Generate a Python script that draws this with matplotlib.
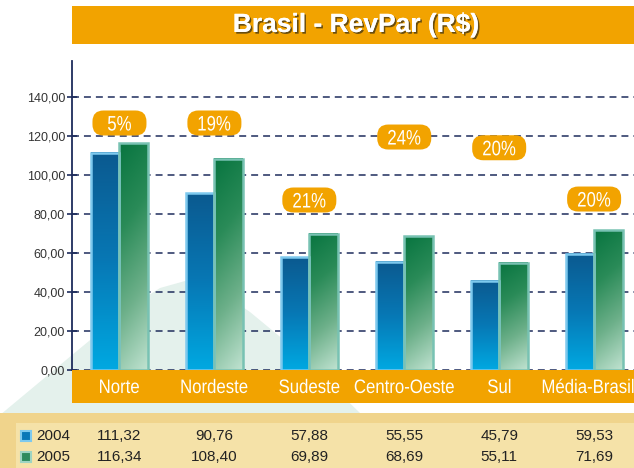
import numpy as np
import matplotlib
matplotlib.use('Agg')
import matplotlib.pyplot as plt
from matplotlib.patches import Rectangle, FancyBboxPatch, Polygon, PathPatch
from matplotlib.colors import LinearSegmentedColormap
from matplotlib.textpath import TextPath
from matplotlib.font_manager import FontProperties
import matplotlib.transforms as mtransforms
import matplotlib.patheffects as pe

# ---- data ----
regions = ['Norte', 'Nordeste', 'Sudeste', 'Centro-Oeste', 'Sul', 'Média-Brasil']
revpar_2004 = [111.32, 90.76, 57.88, 55.55, 45.79, 59.53]
revpar_2005 = [116.34, 108.40, 69.89, 68.69, 55.11, 71.69]
growth = ['5%', '19%', '21%', '24%', '20%', '20%']
yticks = [0, 20, 40, 60, 80, 100, 120, 140]

# where the growth pills float (layout only)
pill_y = [126.7, 126.7, 87.2, 119.5, 114.0, 87.7]
# small horizontal nudges of the region labels, in pixels (layout only)
label_dx = [0, 0, 0, 0, 0, -6]

regular = 'Liberation Sans'
plt.rcParams['lines.scale_dashes'] = False

ORANGE = '#F2A300'
NAVY = '#1E2C5C'

W, H = 634, 468
def fx(px):
    return px / W
def fy(py):
    return 1 - py / H

fig = plt.figure(figsize=(W / 100, H / 100), dpi=100)
fig.patch.set_facecolor('white')
px_tr = mtransforms.Affine2D().scale(1 / W, 1 / H) + fig.transFigure


def narrow_text(x_px, y_px, s, size_px, sx=0.84, color='white', zorder=3):
    # condensed look: draw the glyph outlines squeezed horizontally
    tp = TextPath((0, 0), s, size=size_px, prop=FontProperties(family=regular))
    bb = tp.get_extents()
    cap = 0.716 * size_px
    t = (mtransforms.Affine2D().translate(-(bb.x0 + bb.width / 2), -cap / 2)
         .scale(sx, 1).translate(x_px, H - y_px))
    path = t.transform_path(tp)
    fig.add_artist(PathPatch(path, transform=px_tr, facecolor=color, edgecolor='none', zorder=zorder))


# mint background shape
mint = Polygon([(fx(0), fy(415)), (fx(60), fy(365)), (fx(130), fy(307)), (fx(160), fy(288)),
                (fx(185), fy(281)), (fx(215), fy(288)), (fx(250), fy(312)), (fx(290), fy(345)),
                (fx(360), fy(413)), (fx(360), fy(468)), (fx(0), fy(468))],
               closed=True, transform=fig.transFigure, facecolor='#E4F1EC', edgecolor='none', zorder=-1)
fig.add_artist(mint)

ax = fig.add_axes([fx(72), fy(370), fx(634) - fx(72), fy(61) - fy(370)])
ax.patch.set_alpha(0)

# gridlines
for v in yticks:
    ax.axhline(v, color=NAVY, lw=1.1, dashes=(5, 3.6), zorder=1)

cmap04 = LinearSegmentedColormap.from_list('c04', ['#00A8E1', '#0778B5', '#0B5A90'])
cmap05 = LinearSegmentedColormap.from_list('c05', ['#BFE2D0', '#6DB08A', '#2A8B58', '#087540'])

n = 64
yy, xx = np.mgrid[1:0:n * 1j, 0:1:n * 1j]
grad04 = yy
grad05 = np.clip(yy * 0.85 + (1 - xx) * 0.15, 0, 1)

bw = 0.3
for i in range(len(regions)):
    h1 = revpar_2004[i]
    h2 = revpar_2005[i]
    ax.imshow(grad04, extent=[i - bw, i, 0, h1], aspect='auto', cmap=cmap04,
              vmin=0, vmax=1, zorder=3, interpolation='bilinear')
    ax.add_patch(Rectangle((i - bw, 0), bw, h1, fill=False, ec='#7DC9EE', lw=1.8, zorder=4))
    ax.imshow(grad05, extent=[i, i + bw, 0, h2], aspect='auto', cmap=cmap05,
              vmin=0, vmax=1, zorder=3, interpolation='bilinear')
    ax.add_patch(Rectangle((i, 0), bw, h2, fill=False, ec='#78C2B3', lw=1.8, zorder=4))

    # growth pill
    tr = fig.dpi_scale_trans + mtransforms.ScaledTranslation(i, pill_y[i], ax.transData)
    pill = FancyBboxPatch((-0.27, -0.125), 0.54, 0.25, boxstyle='round,pad=0,rounding_size=0.11',
                          transform=tr, facecolor=ORANGE, edgecolor='none', zorder=5)
    ax.add_patch(pill)

ax.set_xlim(-0.5, 5.42)
ax.set_ylim(0, 158.5)
ax.set_xticks([])
ax.set_yticks(yticks)
ax.set_yticklabels([f'{v:.2f}'.replace('.', ',') for v in yticks])
ax.tick_params(axis='y', direction='inout', length=7, width=1.2, color=NAVY, pad=1.5,
               labelsize=9, labelcolor='#333333')
for lab in ax.get_yticklabels():
    lab.set_family(regular)
for s in ['top', 'right', 'bottom']:
    ax.spines[s].set_visible(False)
ax.spines['left'].set_color(NAVY)
ax.spines['left'].set_linewidth(1.3)

# pill labels, placed in pixel space from the data coordinates
fig.canvas.draw()
for i in range(len(regions)):
    x_disp, y_disp = ax.transData.transform((i, pill_y[i]))
    narrow_text(x_disp, H - y_disp, growth[i], 21, sx=0.8, zorder=6)

# title bar
fig.add_artist(Rectangle((fx(72), fy(44)), 1 - fx(72), fy(6) - fy(44), transform=fig.transFigure,
                         facecolor=ORANGE, edgecolor='none', zorder=1))
fig.text(fx(356), fy(25), 'Brasil - RevPar (R$)', ha='center', va='center', color='white',
         fontsize=19, fontweight='bold', family=regular, zorder=2,
         path_effects=[pe.withSimplePatchShadow(offset=(1.2, -1.2), shadow_rgbFace='#5A4410', alpha=0.9),
                       pe.Normal()])

# category band
fig.add_artist(Rectangle((fx(72), fy(403)), 1 - fx(72), fy(370) - fy(403), transform=fig.transFigure,
                         facecolor=ORANGE, edgecolor='none', zorder=1))
bt = mtransforms.blended_transform_factory(ax.transData, fig.transFigure)
for i, r in enumerate(regions):
    x_disp = ax.transData.transform((i, 0))[0]
    narrow_text(x_disp + label_dx[i], 386, r, 19.5, sx=0.86, zorder=2)

# data table
fig.add_artist(Rectangle((0, 0), 1, fy(413), transform=fig.transFigure,
                         facecolor='#F0D48C', edgecolor='none', zorder=1))
fig.add_artist(Rectangle((fx(16), 0), 1 - fx(16), fy(423), transform=fig.transFigure,
                         facecolor='#F5E2A8', edgecolor='none', zorder=1))
rows = [('2004', revpar_2004, '#0A78B8', '#7DC9EE', 436),
        ('2005', revpar_2005, '#2E8B5E', '#9ED4C2', 457)]
for name, vals, fc, ec, py in rows:
    fig.add_artist(Rectangle((fx(21), fy(py + 5)), fx(10), fy(py - 5) - fy(py + 5), transform=fig.transFigure,
                             facecolor=fc, edgecolor=ec, lw=1.5, zorder=2))
    fig.text(fx(36), fy(py), name, ha='left', va='center', color='#222222', fontsize=11,
             family=regular, zorder=2)
    for i, v in enumerate(vals):
        fig.text(i, fy(py), f'{v:.2f}'.replace('.', ','), transform=bt, ha='center', va='center',
                 color='#222222', fontsize=11, family=regular, zorder=2)

fig.savefig('out.png', dpi=100)
